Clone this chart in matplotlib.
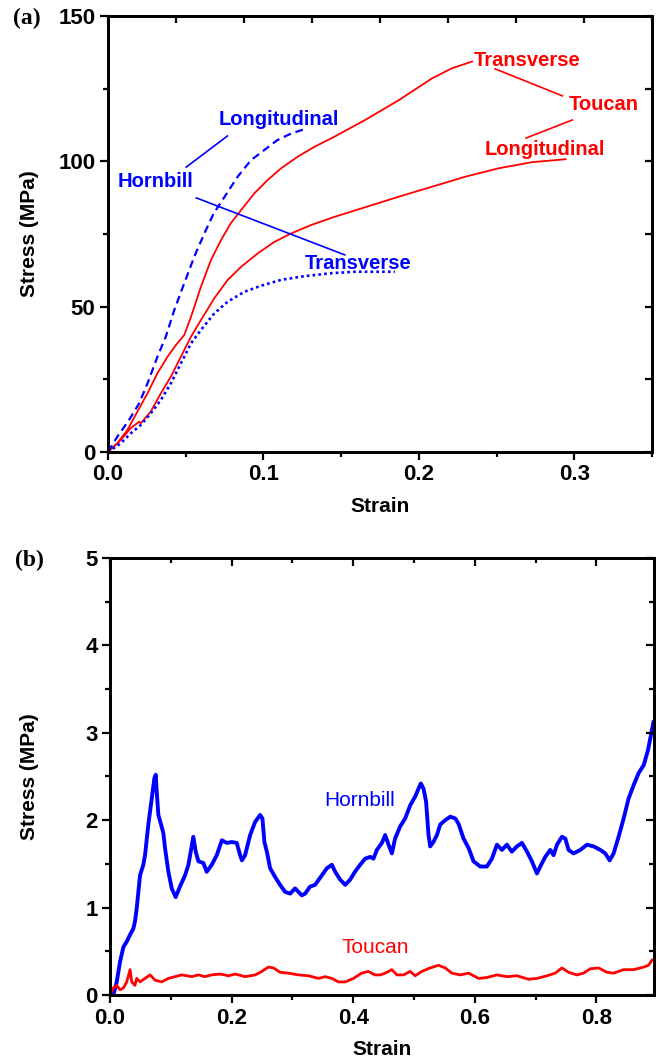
import numpy as np
import matplotlib
matplotlib.use("Agg")
import matplotlib.pyplot as plt
from matplotlib.ticker import MultipleLocator, NullFormatter

plt.rcParams['font.family'] = ['Liberation Sans', 'DejaVu Sans']

# ---------------- Panel (a) data ----------------
hl_strain = [0.0, 0.006, 0.0135, 0.020, 0.0254, 0.0318, 0.0372, 0.0426, 0.049, 0.0555,
             0.062, 0.068, 0.075, 0.0834, 0.092, 0.1006, 0.109, 0.118, 0.128]
hl_stress = [0.0, 5.3, 11.0, 16.7, 23.6, 32.8, 39.7, 48.8, 58.0, 67.2,
             75.2, 82.1, 87.8, 94.7, 100.4, 103.9, 107.3, 109.6, 111.3]

ht_strain = [0.0, 0.0082, 0.0146, 0.0211, 0.0275, 0.034, 0.0404, 0.0469, 0.0534, 0.0598,
             0.0684, 0.077, 0.0877, 0.0985, 0.1114, 0.1265, 0.1437, 0.1587, 0.166, 0.1845]
ht_stress = [0.0, 3.0, 6.4, 9.3, 13.3, 17.9, 23.6, 30.5, 37.4, 42.0,
             47.7, 51.7, 55.1, 57.2, 59.2, 60.5, 61.5, 62.0, 62.0, 62.0]

tt_strain = [0.0, 0.006, 0.0125, 0.0189, 0.0254, 0.0318, 0.0383, 0.0437, 0.049, 0.0534,
             0.0598, 0.0662, 0.0727, 0.079, 0.0856, 0.0942, 0.1028, 0.1114, 0.1221, 0.1329,
             0.1458, 0.1654, 0.187, 0.2084, 0.2213, 0.2342]
tt_stress = [0.0, 3.0, 7.6, 13.9, 20.2, 27.1, 32.8, 36.8, 40.2, 46.5,
             56.9, 66.0, 72.9, 78.7, 83.2, 89.0, 93.6, 97.6, 101.6, 105.0,
             108.5, 114.2, 121.0, 128.5, 132.0, 134.3]

tl_strain = [0.0, 0.0082, 0.0146, 0.020, 0.0211, 0.0275, 0.034, 0.0404, 0.0469, 0.0534,
             0.0598, 0.0684, 0.077, 0.0856, 0.0963, 0.1071, 0.1179, 0.1308, 0.1458, 0.187,
             0.2299, 0.2514, 0.2729, 0.2944]
tl_stress = [0.0, 4.1, 8.2, 10.4, 9.9, 13.9, 20.2, 25.9, 32.8, 39.7,
             45.4, 52.9, 59.2, 63.7, 68.3, 72.3, 75.2, 78.1, 80.9, 87.8,
             94.7, 97.6, 99.7, 100.7]

# ---------------- Panel (b) data ----------------
hb_strain = [0.0055, 0.011, 0.0165, 0.022, 0.0275, 0.033, 0.0384, 0.041, 0.0439, 0.0466,
             0.0494, 0.0548, 0.0576, 0.063, 0.0686, 0.073, 0.0752, 0.0768, 0.0795, 0.084,
             0.0878, 0.0905, 0.096, 0.1015, 0.108, 0.115, 0.1235, 0.129, 0.1333, 0.137,
             0.141, 0.1454, 0.1536, 0.159, 0.1674, 0.1756, 0.184, 0.192, 0.2003, 0.2085,
             0.214, 0.217, 0.2222, 0.2305, 0.2387, 0.247, 0.2507, 0.254, 0.258, 0.2634,
             0.2716, 0.2798, 0.288, 0.2963, 0.3045, 0.3155, 0.321, 0.329, 0.3374, 0.3485,
             0.3567, 0.365, 0.3704, 0.3786, 0.387, 0.395, 0.403, 0.4115, 0.4198, 0.428,
             0.4334, 0.439, 0.4473, 0.4527, 0.4582, 0.4637, 0.469, 0.4774, 0.4856, 0.4938,
             0.502, 0.5075, 0.5114, 0.5158, 0.52, 0.524, 0.5267, 0.532, 0.5378, 0.5432,
             0.5514, 0.5597, 0.568, 0.5733, 0.5816, 0.59, 0.598, 0.609, 0.62, 0.6283,
             0.6365, 0.6447, 0.653, 0.661, 0.6694, 0.6777, 0.686, 0.694, 0.7023, 0.7078,
             0.716, 0.7243, 0.7297, 0.7353, 0.7435, 0.749, 0.7544, 0.7627, 0.7737, 0.7847,
             0.7956, 0.8066, 0.8148, 0.822, 0.8285, 0.8367, 0.845, 0.8532, 0.8614, 0.8697,
             0.878, 0.885, 0.894]
hb_stress = [0.0, 0.15, 0.38, 0.55, 0.61, 0.69, 0.76, 0.84, 0.99, 1.18,
             1.37, 1.49, 1.60, 1.95, 2.25, 2.48, 2.52, 2.33, 2.06, 1.95,
             1.85, 1.68, 1.41, 1.22, 1.12, 1.24, 1.37, 1.49, 1.66, 1.81,
             1.64, 1.53, 1.51, 1.41, 1.49, 1.60, 1.77, 1.74, 1.75, 1.74,
             1.60, 1.54, 1.60, 1.83, 1.98, 2.06, 2.02, 1.75, 1.64, 1.45,
             1.35, 1.26, 1.18, 1.16, 1.22, 1.14, 1.16, 1.24, 1.26, 1.37,
             1.45, 1.49, 1.41, 1.32, 1.26, 1.32, 1.41, 1.49, 1.56, 1.58,
             1.56, 1.66, 1.74, 1.83, 1.72, 1.62, 1.79, 1.93, 2.02, 2.17,
             2.27, 2.36, 2.42, 2.36, 2.21, 1.83, 1.70, 1.75, 1.83, 1.95,
             2.00, 2.04, 2.02, 1.96, 1.79, 1.68, 1.53, 1.47, 1.47, 1.56,
             1.72, 1.66, 1.72, 1.64, 1.70, 1.74, 1.64, 1.53, 1.39, 1.47,
             1.58, 1.66, 1.60, 1.72, 1.81, 1.79, 1.66, 1.62, 1.66, 1.72,
             1.70, 1.66, 1.62, 1.54, 1.62, 1.81, 2.02, 2.25, 2.40, 2.54,
             2.63, 2.80, 3.12]

tb_strain = [0.0, 0.0055, 0.011, 0.0165, 0.022, 0.0275, 0.033, 0.0357, 0.041, 0.0439,
             0.0494, 0.0576, 0.066, 0.074, 0.085, 0.096, 0.107, 0.118, 0.1345, 0.1454,
             0.156, 0.167, 0.181, 0.195, 0.206, 0.222, 0.239, 0.2497, 0.2606, 0.2688,
             0.2798, 0.2935, 0.31, 0.3265, 0.343, 0.354, 0.365, 0.3758, 0.387, 0.4005,
             0.414, 0.425, 0.436, 0.4444, 0.4527, 0.4637, 0.472, 0.483, 0.4938, 0.502,
             0.513, 0.5267, 0.5405, 0.5514, 0.5625, 0.576, 0.59, 0.6063, 0.62, 0.6365,
             0.653, 0.6694, 0.6886, 0.7023, 0.719, 0.7325, 0.7435, 0.7544, 0.768, 0.779,
             0.79, 0.8038, 0.8176, 0.8285, 0.845, 0.8614, 0.878, 0.886, 0.8917]
tb_stress = [0.0, 0.08, 0.11, 0.06, 0.08, 0.15, 0.29, 0.15, 0.11, 0.19,
             0.15, 0.19, 0.23, 0.17, 0.15, 0.19, 0.21, 0.23, 0.21, 0.23,
             0.21, 0.23, 0.24, 0.22, 0.24, 0.21, 0.23, 0.27, 0.32, 0.31,
             0.26, 0.25, 0.23, 0.22, 0.19, 0.21, 0.19, 0.15, 0.15, 0.19,
             0.25, 0.27, 0.23, 0.23, 0.25, 0.29, 0.23, 0.23, 0.27, 0.22,
             0.27, 0.31, 0.34, 0.31, 0.25, 0.23, 0.25, 0.19, 0.20, 0.23,
             0.21, 0.22, 0.18, 0.19, 0.22, 0.25, 0.31, 0.26, 0.23, 0.25,
             0.30, 0.31, 0.26, 0.25, 0.29, 0.29, 0.32, 0.34, 0.40]

BLUE = '#0000ff'
RED = '#ff0000'
TICK_FS = 16
LABEL_FS = 15
ANN_FS = 14.5
SPINE_W = 1.9

fig = plt.figure(figsize=(6.64, 10.61), dpi=100)

def style_axes(ax, xmaj, xmin, ymaj, ymin):
    for s in ax.spines.values():
        s.set_linewidth(SPINE_W)
    ax.xaxis.set_major_locator(MultipleLocator(xmaj))
    ax.xaxis.set_minor_locator(MultipleLocator(xmin))
    ax.yaxis.set_major_locator(MultipleLocator(ymaj))
    ax.yaxis.set_minor_locator(MultipleLocator(ymin))
    ax.tick_params(which='major', direction='out', length=6, width=1.6,
                   labelsize=TICK_FS, pad=3, top=False, right=False)
    ax.tick_params(which='minor', direction='out', length=3.5, width=1.6,
                   top=False, right=False)

# ---------------- Panel (a) ----------------
ax1 = fig.add_axes([0.1627, 0.574, 0.8193, 0.411])
ax1.plot(tt_strain, tt_stress, color=RED, lw=1.3)
ax1.plot(tl_strain, tl_stress, color=RED, lw=1.3)
ax1.plot(hl_strain, hl_stress, color=BLUE, lw=1.6, linestyle=(0, (3.5, 2.2)))
ax1.plot(ht_strain, ht_stress, color=BLUE, lw=1.9, linestyle=(0, (1.0, 1.2)))
ax1.set_xlim(0, 0.35)
ax1.set_ylim(0, 150)
style_axes(ax1, 0.1, 0.05, 50, 25)
ax1.set_xticks([0.0, 0.1, 0.2, 0.3])
ax1.set_xticklabels(['0.0', '0.1', '0.2', '0.3'], fontweight='bold')
ax1.set_yticks([0, 50, 100, 150])
ax1.set_yticklabels(['0', '50', '100', '150'], fontweight='bold')
ax1.set_xlabel('Strain', fontsize=LABEL_FS, fontweight='bold', labelpad=8)
ax1.set_ylabel('Stress (MPa)', fontsize=LABEL_FS, fontweight='bold')
ax1.yaxis.set_label_coords(-0.126, 0.5)

# inward ticks on top/right
ax1t = ax1.twiny()
ax1t.set_xlim(0, 0.4)
ax1t.xaxis.set_major_locator(MultipleLocator(0.05))
ax1t.tick_params(axis='x', direction='in', length=5, width=1.6, labeltop=False)
ax1r = ax1.twinx()
ax1r.set_ylim(0, 150)
ax1r.yaxis.set_major_locator(MultipleLocator(25))
ax1r.tick_params(axis='y', direction='in', length=5, width=1.6, labelright=False)
for a in (ax1t, ax1r):
    for s in a.spines.values():
        s.set_linewidth(SPINE_W)

# annotations panel (a)
ax1.text(0.1097, 114.5, 'Longitudinal', color=BLUE, fontsize=ANN_FS, fontweight='bold',
         ha='center', va='center')
ax1.text(0.0303, 93.2, 'Hornbill', color=BLUE, fontsize=ANN_FS, fontweight='bold',
         ha='center', va='center')
ax1.text(0.1606, 65.0, 'Transverse', color=BLUE, fontsize=ANN_FS, fontweight='bold',
         ha='center', va='center')
ax1.text(0.2697, 134.8, 'Transverse', color=RED, fontsize=ANN_FS, fontweight='bold',
         ha='center', va='center')
ax1.text(0.319, 119.4, 'Toucan', color=RED, fontsize=ANN_FS, fontweight='bold',
         ha='center', va='center')
ax1.text(0.2813, 104.0, 'Longitudinal', color=RED, fontsize=ANN_FS, fontweight='bold',
         ha='center', va='center')
ax1.plot([0.0503, 0.0768], [98.0, 108.7], color=BLUE, lw=1.2)
ax1.plot([0.0568, 0.1523], [87.4, 67.8], color=BLUE, lw=1.2)
ax1.plot([0.249, 0.2923], [131.8, 122.5], color=RED, lw=1.2)
ax1.plot([0.2987, 0.269], [114.2, 108.0], color=RED, lw=1.2)

fig.text(13 / 664, 1 - 18 / 1061, '(a)', fontsize=17, fontweight='bold',
         family=['Liberation Serif', 'DejaVu Serif'], ha='left', va='center')

# ---------------- Panel (b) ----------------
ax2 = fig.add_axes([0.1657, 0.0622, 0.8193, 0.4119])
ax2.plot(hb_strain, hb_stress, color=BLUE, lw=2.8)
ax2.plot(tb_strain, tb_stress, color=RED, lw=2.0)
ax2.set_xlim(0, 0.895)
ax2.set_ylim(0, 5)
style_axes(ax2, 0.2, 0.1, 1, 0.5)
ax2.set_xticks([0.0, 0.2, 0.4, 0.6, 0.8])
ax2.set_xticklabels(['0.0', '0.2', '0.4', '0.6', '0.8'], fontweight='bold')
ax2.set_yticks([0, 1, 2, 3, 4, 5])
ax2.set_yticklabels(['0', '1', '2', '3', '4', '5'], fontweight='bold')
ax2.set_xlabel('Strain', fontsize=LABEL_FS, fontweight='bold', labelpad=8)
ax2.set_ylabel('Stress (MPa)', fontsize=LABEL_FS, fontweight='bold')
ax2.yaxis.set_label_coords(-0.130, 0.5)

ax2t = ax2.twiny()
ax2t.set_xlim(0, 0.895)
ax2t.xaxis.set_major_locator(MultipleLocator(0.2))
ax2t.xaxis.set_minor_locator(MultipleLocator(0.1))
ax2t.tick_params(axis='x', which='major', direction='in', length=6, width=1.6, labeltop=False)
ax2t.tick_params(axis='x', which='minor', direction='in', length=3.5, width=1.6)
ax2r = ax2.twinx()
ax2r.set_ylim(0, 5)
ax2r.yaxis.set_major_locator(MultipleLocator(1))
ax2r.yaxis.set_minor_locator(MultipleLocator(0.5))
ax2r.tick_params(axis='y', which='major', direction='in', length=6, width=1.6, labelright=False)
ax2r.tick_params(axis='y', which='minor', direction='in', length=3.5, width=1.6)
for a in (ax2t, ax2r):
    for s in a.spines.values():
        s.set_linewidth(SPINE_W)

ax2.text(0.41, 2.22, 'Hornbill', color=BLUE, fontsize=15, ha='center', va='center')
ax2.text(0.436, 0.54, 'Toucan', color=RED, fontsize=15, ha='center', va='center')

fig.text(15 / 664, 1 - 560 / 1061, '(b)', fontsize=17, fontweight='bold',
         family=['Liberation Serif', 'DejaVu Serif'], ha='left', va='center')

fig.savefig('out.png', dpi=100)
